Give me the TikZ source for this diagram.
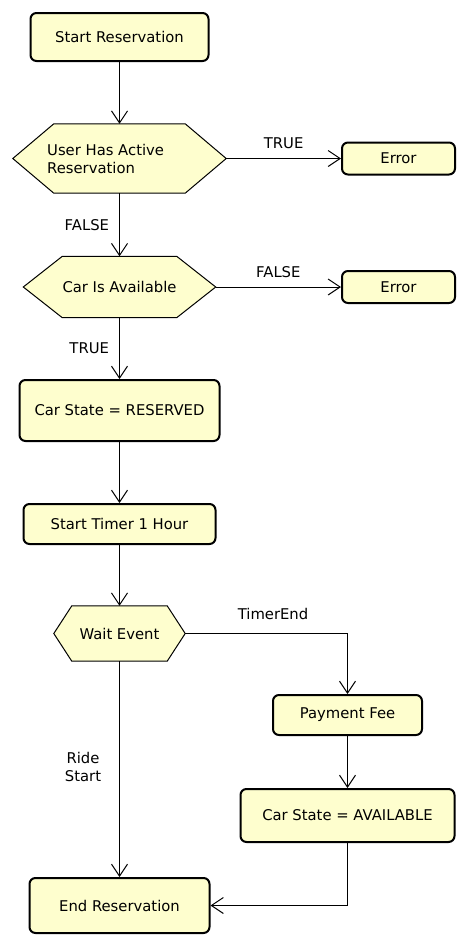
\documentclass[tikz,border=0pt]{standalone}
\usepackage{fontspec}
\setmainfont{DejaVu Sans}
\usetikzlibrary{arrows.meta,calc}
\definecolor{actfill}{HTML}{FEFECE}
\tikzset{
  txt/.style={font=\fontsize{14.8}{18}\selectfont},
  box/.style={txt, draw=black, line width=2pt, rounded corners=6pt, fill=actfill},
  hexbox/.style={txt, draw=none, inner sep=0pt},
  hexline/.style={draw=black, line width=1pt, fill=actfill},
  flow/.style={draw=black, line width=1pt, -{Straight Barb[length=12pt,width=16pt,line width=1pt]}},
  lbl/.style={txt, inner sep=0pt},
}
\newcommand{\hexshape}[2]{%
  \path[hexline] (#1.west) -- ($(#1.north west)+(#2,0)$) -- ($(#1.north east)+(-#2,0)$) -- (#1.east)
    -- ($(#1.south east)+(-#2,0)$) -- ($(#1.south west)+(#2,0)$) -- cycle;}
\begin{document}
\begin{tikzpicture}[x=1pt,y=-1pt]
\useasboundingbox (0,0) rectangle (468,945);
% nodes
\node[box, minimum width=178pt, minimum height=48pt] (start) at (119.5,37) {Start Reservation};
\node[hexbox, minimum width=213pt, minimum height=69pt] (h1) at (119.5,158.5) {};
\hexshape{h1}{41}
\node[hexbox, anchor=west, align=left] (h1t) at (47,158.5) {User Has Active\\Reservation};
\node[box, minimum width=113pt, minimum height=32pt] (err1) at (398.5,158.5) {Error};
\node[hexbox, minimum width=192pt, minimum height=61pt] (h2) at (119.5,287) {};
\hexshape{h2}{39}
\node[hexbox] (h2t) at (119.5,287) {Car Is Available};
\node[box, minimum width=113pt, minimum height=32pt] (err2) at (398.5,287) {Error};
\node[box, minimum width=200pt, minimum height=61pt] (res) at (119.5,410.5) {Car State = RESERVED};
\node[box, minimum width=192pt, minimum height=40pt] (timer) at (119.5,524) {Start Timer 1 Hour};
\node[hexbox, minimum width=131pt, minimum height=55pt] (wait) at (119.5,633.5) {};
\hexshape{wait}{18}
\node[hexbox] (waitt) at (119.5,633.5) {Wait Event};
\node[box, minimum width=149pt, minimum height=40pt] (pay) at (347.5,715) {Payment Fee};
\node[box, minimum width=214pt, minimum height=53pt] (avail) at (347.5,815.5) {Car State = AVAILABLE};
\node[box, minimum width=180pt, minimum height=55pt] (end) at (119.5,905.5) {End Reservation};
% connectors
\draw[flow] (start.south) -- (h1.north);
\draw[flow] (h1.east) -- (err1.west) node[lbl, midway, above=9pt] (lt1) {TRUE};
\draw[flow] (h1.south) -- (h2.north) node[lbl, midway, left=10pt] (lf1) {FALSE};
\draw[flow] (h2.east) -- (err2.west) node[lbl, midway, above=9pt] (lf2) {FALSE};
\draw[flow] (h2.south) -- (res.north) node[lbl, midway, left=10pt] (lt2) {TRUE};
\draw[flow] (res.south) -- (timer.north);
\draw[flow] (timer.south) -- (wait.north);
\draw[flow] (wait.east) -| (pay.north);
\node[lbl] (lte) at (273,614) {TimerEnd};
\draw[flow] (pay.south) -- (avail.north);
\draw[flow] (wait.south) -- (end.north);
\node[lbl, align=center] (lrs) at (83,767) {Ride\\Start};
\draw[flow] (avail.south) |- (end.east);
\end{tikzpicture}
\end{document}
